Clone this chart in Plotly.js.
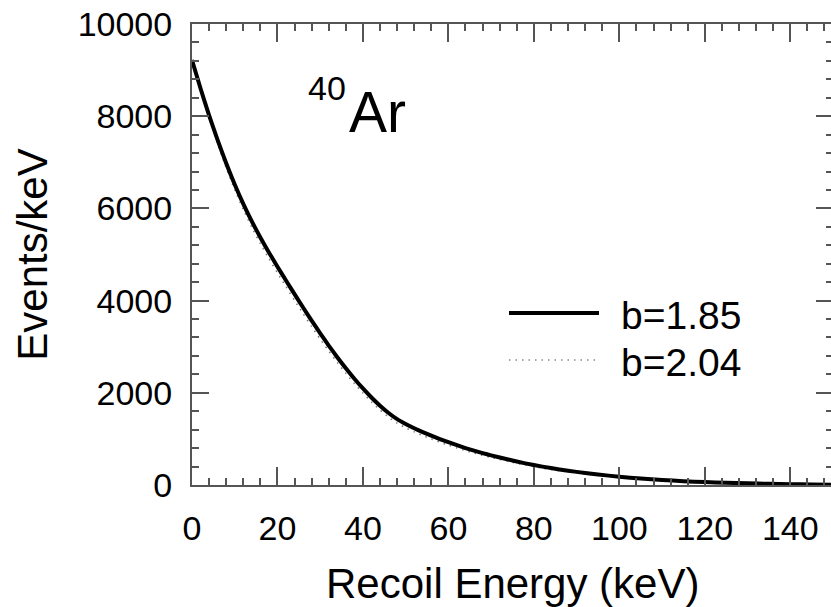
<!DOCTYPE html>
<html>
<head>
<meta charset="utf-8">
<script src="https://cdn.plot.ly/plotly-3.0.1.min.js"></script>
<style>
html,body{margin:0;padding:0;overflow:hidden;background:#fff;}
#chart{width:834px;height:607px;}
</style>
</head>
<body>
<div id="chart"></div>
<script>
// Recoil energy (keV)
const energy = [0, 2, 4, 6, 8, 10, 12, 14, 16, 18, 20, 22, 24, 26, 28, 30, 32, 34, 36, 38, 40, 42, 44, 46, 48, 50, 52, 54, 56, 58, 60, 62, 64, 66, 68, 70, 74, 78, 82, 86, 90, 95, 100, 105, 110, 115, 120, 125, 130, 135, 140, 145, 150];
// Events/keV for b = 1.85 (solid)
const eventsB185 = [9220, 8600, 8020, 7480, 6980, 6520, 6100, 5720, 5370, 5045, 4735, 4435, 4140, 3850, 3565, 3290, 3025, 2772, 2532, 2306, 2094, 1898, 1720, 1562, 1430, 1325, 1232, 1148, 1070, 997, 928, 863, 802, 745, 692, 643, 552, 470, 398, 337, 285, 228, 180, 140, 108, 83, 63, 48, 36, 26, 18, 12, 7];
// Events/keV for b = 2.04 (dotted)
const eventsB204 = [9220, 8575, 7965, 7400, 6880, 6405, 5975, 5590, 5235, 4910, 4600, 4300, 4005, 3715, 3435, 3165, 2905, 2657, 2422, 2201, 1994, 1801, 1626, 1472, 1342, 1240, 1152, 1072, 998, 929, 864, 803, 746, 693, 643, 597, 511, 434, 366, 309, 261, 208, 163, 126, 97, 74, 56, 43, 32, 23, 16, 10, 6];
const seriesNames = ["b=1.85", "b=2.04"];
const xTitle = "Recoil Energy (keV)";
const yTitle = "Events/keV";

const font = "Liberation Sans, Arial, Helvetica, sans-serif";

const traces = [
  {x: energy, y: eventsB204, mode: "lines", name: seriesNames[1],
   line: {color: "#777", width: 1.5, dash: "1.5px,5px", shape: "spline", smoothing: 0.6}, showlegend: false},
  {x: energy, y: eventsB185, mode: "lines", name: seriesNames[0],
   line: {color: "#000", width: 4, shape: "spline", smoothing: 0.6}, showlegend: false}
];

const axisCommon = {
  showgrid: false, zeroline: false, showline: true, linecolor: "#555", linewidth: 2,
  mirror: "ticks", ticks: "inside", tickcolor: "#555", tickwidth: 2,
  tickfont: {family: font, size: 34, color: "#000"}
};

const layout = {
  width: 834, height: 607,
  margin: {l: 192, r: 1, t: 24, b: 122},
  paper_bgcolor: "#fff", plot_bgcolor: "#fff",
  font: {family: font, color: "#000"},
  xaxis: Object.assign({}, axisCommon, {
    range: [0, 150], tick0: 0, dtick: 20, ticklen: 18,
    minor: {dtick: 4, ticklen: 7, ticks: "inside", tickcolor: "#555", tickwidth: 2},
    ticklabelstandoff: 12
  }),
  yaxis: Object.assign({}, axisCommon, {
    range: [0, 10000], tick0: 0, dtick: 2000, ticklen: 17, tickformat: "d",
    minor: {dtick: 400, ticklen: 7, ticks: "inside", tickcolor: "#555", tickwidth: 2},
    ticklabelstandoff: 11,
    title: {text: yTitle, font: {family: font, size: 42, color: "#000"}, standoff: 17}
  }),
  shapes: [
    {type: "line", xref: "paper", yref: "paper",
     x0: (509-192)/641, x1: (599-192)/641, y0: (485-313)/461, y1: (485-313)/461,
     line: {color: "#000", width: 4}},
    {type: "line", xref: "paper", yref: "paper",
     x0: (509-192)/641, x1: (599-192)/641, y0: (485-360)/461, y1: (485-360)/461,
     line: {color: "#888", width: 1.5, dash: "1.5px,5px"}}
  ],
  annotations: [
    {xref: "paper", yref: "paper", x: 0.5, y: (485-583)/461, xanchor: "center", yanchor: "middle",
     text: xTitle, showarrow: false, font: {family: font, size: 42, color: "#000"}},
    {xref: "paper", yref: "paper", x: (619-192)/641, y: (485-315)/461, xanchor: "left", yanchor: "middle",
     text: seriesNames[0], showarrow: false, font: {family: font, size: 39, color: "#000"}},
    {xref: "paper", yref: "paper", x: (619-192)/641, y: (485-362)/461, xanchor: "left", yanchor: "middle",
     text: seriesNames[1], showarrow: false, font: {family: font, size: 39, color: "#000"}},
    {xref: "paper", yref: "paper", x: (348-192)/641, y: (485-88)/461, xanchor: "right", yanchor: "middle",
     text: "40", showarrow: false, font: {family: font, size: 34, color: "#000"}},
    {xref: "paper", yref: "paper", x: (347-192)/641, y: (485-112)/461, xanchor: "left", yanchor: "middle",
     text: "Ar", showarrow: false, font: {family: font, size: 57, color: "#000"}}
  ]
};

Plotly.newPlot("chart", traces, layout, {staticPlot: true, displayModeBar: false});
</script>
</body>
</html>
